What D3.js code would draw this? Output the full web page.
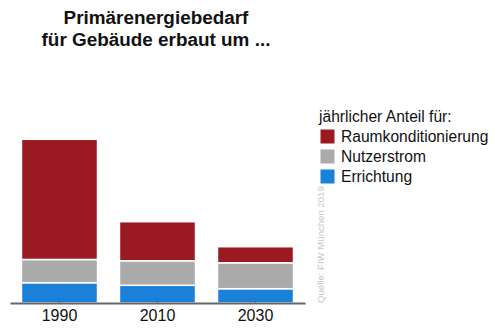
<!DOCTYPE html>
<html>
<head>
<meta charset="utf-8">
<script src="https://cdn.jsdelivr.net/npm/d3@7"></script>
<style>
  body { margin: 0; background: #fff; }
  svg { font-family: "Liberation Sans", Arial, sans-serif; display: block; }
</style>
</head>
<body>
<svg></svg>
<script>
// Jahre (Kategorien)
var years = ["1990", "2010", "2030"];
// Anteile je Jahr (relative Werte)
var errichtung = [20.3, 17.7, 14.3];
var nutzerstrom = [23.2, 24.5, 25.9];
var raumkond = [120.2, 39.1, 16.1];

var seriesNames = ["Errichtung", "Nutzerstrom", "Raumkonditionierung"];
var legendOrder = ["Raumkonditionierung", "Nutzerstrom", "Errichtung"];
var colors = {
  "Raumkonditionierung": "#9b1a21",
  "Nutzerstrom": "#aaaaaa",
  "Errichtung": "#1b80d7"
};

var w = 500, h = 331;
var base = 303;

var vis = d3.select("svg")
    .attr("width", w)
    .attr("height", h);

var rows = years.map(function(y, i) {
  return {
    year: y,
    "Errichtung": errichtung[i],
    "Nutzerstrom": nutzerstrom[i],
    "Raumkonditionierung": raumkond[i]
  };
});

var stack = d3.stack().keys(seriesNames)(rows);

var x = d3.scaleBand()
    .domain(years)
    .range([10, 305])
    .paddingInner(0.224)
    .paddingOuter(0.117);

var y = d3.scaleLinear()
    .domain([0, 170])
    .range([base, base - 170]);

// Balken
vis.append("g").selectAll("g")
  .data(stack)
  .join("g")
    .attr("fill", function(d) { return colors[d.key]; })
  .selectAll("rect")
  .data(function(d) { return d; })
  .join("rect")
    .attr("x", function(d) { return x(d.data.year); })
    .attr("y", function(d) { return y(d[1]); })
    .attr("width", x.bandwidth())
    .attr("height", function(d) { return y(d[0]) - y(d[1]); })
    .attr("stroke", "#fff")
    .attr("stroke-width", 1.5);

// x-Achse
var axis = vis.append("g")
    .attr("transform", "translate(0," + base + ")")
    .call(d3.axisBottom(x).tickSize(-3).tickSizeOuter(0).tickPadding(7));

axis.select(".domain")
    .attr("stroke", "#666")
    .attr("stroke-width", 2);
axis.selectAll(".tick line")
    .attr("stroke", "#666");
axis.selectAll(".tick text")
    .attr("font-size", 16)
    .attr("font-family", "Liberation Sans, Arial, sans-serif")
    .attr("fill", "#111");

// Titel
var title = ["Primärenergiebedarf", "für Gebäude erbaut um ..."];
vis.append("g").selectAll("text")
  .data(title)
  .join("text")
    .attr("x", 156)
    .attr("y", function(d, i) { return 23.5 + i * 22; })
    .attr("text-anchor", "middle")
    .attr("font-size", 18.9)
    .attr("font-weight", "bold")
    .attr("fill", "#111")
    .text(function(d) { return d; });

// Legende
var legend = vis.append("g").attr("transform", "translate(319,0)");
legend.append("text")
    .attr("x", 0)
    .attr("y", 122)
    .attr("font-size", 15.6)
    .attr("fill", "#111")
    .text("jährlicher Anteil für:");

var item = legend.selectAll("g.item")
  .data(legendOrder)
  .join("g")
    .attr("class", "item")
    .attr("transform", function(d, i) { return "translate(0," + (129.5 + i * 20) + ")"; });

item.append("rect")
    .attr("x", 1.5)
    .attr("width", 14)
    .attr("height", 14)
    .attr("fill", function(d) { return colors[d]; });

item.append("text")
    .attr("x", 22)
    .attr("y", 12.6)
    .attr("font-size", 15.6)
    .attr("fill", "#111")
    .text(function(d) { return d; });

// Quelle
vis.append("text")
    .attr("transform", "translate(324,303) rotate(-90)")
    .attr("font-size", 9.6)
    .attr("fill", "#c8c8c8")
    .text("Quelle: FIW München 2019");
</script>
</body>
</html>
